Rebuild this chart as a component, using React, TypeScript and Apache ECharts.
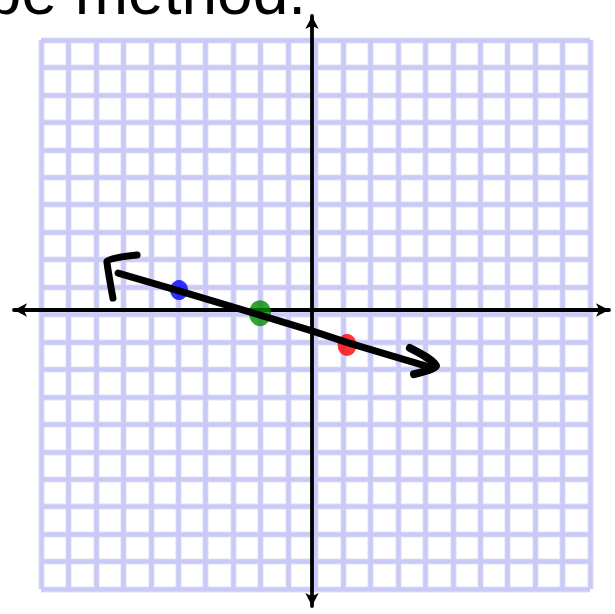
import React, { useEffect, useRef } from "react";
import * as echarts from "echarts";

// Graph paper: 20 x 20 cells, one unit per cell
const paperMin = -10;
const paperMax = 10;
const paperStep = 1;

// Hand-drawn line through the points (graph units)
const strokeX = [-7.19, -4.97, -2.02, -0.13, 1.22, 4.28];
const strokeY = [1.51, 0.86, -0.02, -0.6, -1.04, -1.95];
const leftHeadX = [-6.5, -7.6, -7.38];
const leftHeadY = [2.17, 1.95, 0.6];
const rightHeadX = [3.44, 4.08, 4.39, 3.59];
const rightHeadY = [-1.22, -1.58, -1.88, -2.17];

// Plotted points
const pointNames = ["blue", "green", "red"];
const pointX = [-4.97, -2.02, 1.15];
const pointY = [0.89, 0.05, -1.11];
const pointColors = ["#0000ff", "#008c00", "#ff0000"];
const pointSizes = [[18, 20], [22, 26], [19, 22]];

const titleText = "be method.";

const zip = (xs: number[], ys: number[]) => xs.map((x, i) => [x, ys[i]]);

export default function App() {
  const ref = useRef<HTMLDivElement>(null);
  useEffect(() => {
    if (!ref.current) return;
    const chart = echarts.init(ref.current, undefined, { renderer: "svg" });
    const hidden = {
      axisTick: { show: false },
      axisLabel: { show: false },
    };
    const paperAxis = (halo: boolean) => ({
      type: "value" as const,
      gridIndex: 0,
      min: paperMin,
      max: paperMax,
      interval: paperStep,
      z: halo ? 0 : 1,
      axisLine: { show: false },
      ...hidden,
      splitLine: {
        show: true,
        showMinLine: true,
        showMaxLine: true,
        lineStyle: halo
          ? { color: "#efeff5", width: 7 }
          : { color: "#cacaf9", width: 4.6 },
      },
    });
    const axisLine = {
      show: true,
      onZero: true,
      symbol: ["arrow", "arrow"],
      symbolSize: [10, 13],
      lineStyle: { color: "#000", width: 3.8 },
    };
    const lineStyle = {
      color: "#000",
      width: 7,
      cap: "round" as const,
      join: "round" as const,
    };
    chart.setOption({
      animation: false,
      backgroundColor: "#ffffff",
      grid: [
        { left: 41, right: 25, top: 40, bottom: 25 },
        { left: 14, right: 6, top: 16, bottom: 8 },
      ],
      xAxis: [
        paperAxis(true),
        paperAxis(false),
        {
          type: "value",
          gridIndex: 1,
          min: -298,
          max: 297,
          z: 2,
          axisLine,
          ...hidden,
          splitLine: { show: false },
        },
      ],
      yAxis: [
        paperAxis(true),
        paperAxis(false),
        {
          type: "value",
          gridIndex: 1,
          min: -296,
          max: 294,
          z: 2,
          axisLine,
          ...hidden,
          splitLine: { show: false },
        },
      ],
      graphic: [
        {
          type: "text",
          x: 306,
          y: 24,
          style: {
            text: titleText,
            font: '64px "Liberation Sans", Arial, sans-serif',
            fill: "#000",
            align: "right",
            verticalAlign: "bottom",
          },
        },
      ],
      series: [
        {
          type: "scatter",
          xAxisIndex: 1,
          yAxisIndex: 1,
          data: pointNames.map((n, i) => ({
            name: n,
            value: [pointX[i], pointY[i]],
            symbolSize: pointSizes[i],
            itemStyle: { color: pointColors[i] },
          })),
          symbol: "circle",
          z: 3,
        },
        {
          type: "line",
          xAxisIndex: 1,
          yAxisIndex: 1,
          data: zip(strokeX, strokeY),
          showSymbol: false,
          smooth: false,
          lineStyle,
          z: 5,
        },
        {
          type: "line",
          xAxisIndex: 1,
          yAxisIndex: 1,
          data: zip(leftHeadX, leftHeadY),
          showSymbol: false,
          smooth: 0.15,
          lineStyle,
          z: 5,
        },
        {
          type: "line",
          xAxisIndex: 1,
          yAxisIndex: 1,
          data: zip(rightHeadX, rightHeadY),
          showSymbol: false,
          smooth: 0.3,
          lineStyle: { ...lineStyle, width: 8 },
          z: 5,
        },
      ],
    });
    return () => chart.dispose();
  }, []);
  return (
    <div
      ref={ref}
      style={{ position: "absolute", left: 0, top: 0, width: 615, height: 614 }}
    />
  );
}
